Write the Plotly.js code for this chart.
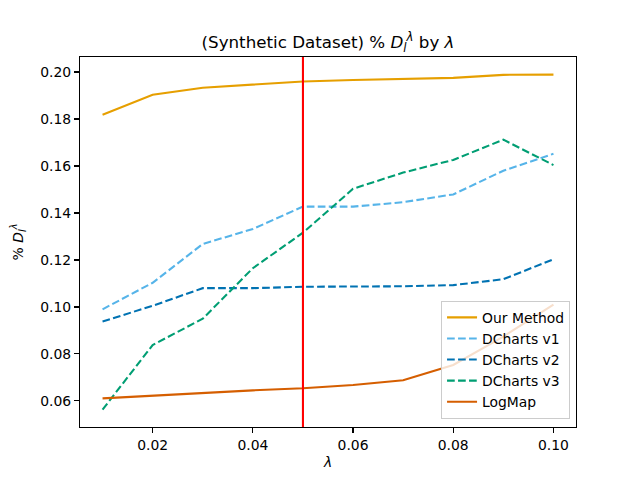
<!DOCTYPE html>
<html>
<head>
<meta charset="utf-8">
<script src="https://cdn.plot.ly/plotly-3.0.1.min.js"></script>
<style>html,body{margin:0;padding:0;background:#fff;}#chart{width:640px;height:480px;}</style>
</head>
<body>
<div id="chart"></div>
<script>
const lambdas = [0.01, 0.02, 0.03, 0.04, 0.05, 0.06, 0.07, 0.08, 0.09, 0.10];
const ourMethod = [0.1818, 0.1903, 0.1933, 0.1948, 0.1960, 0.1966, 0.1969, 0.1975, 0.1988, 0.1989];
const dchartsV1 = [0.0990, 0.1103, 0.1268, 0.1332, 0.1427, 0.1427, 0.1446, 0.1479, 0.1580, 0.1652];
const dchartsV2 = [0.0938, 0.1005, 0.1080, 0.1080, 0.1086, 0.1086, 0.1088, 0.1093, 0.1118, 0.1203];
const dchartsV3 = [0.0563, 0.0838, 0.0950, 0.1165, 0.1316, 0.1503, 0.1572, 0.1626, 0.1712, 0.1604];
const logMap = [0.0611, 0.0623, 0.0634, 0.0645, 0.0654, 0.0668, 0.0688, 0.0753, 0.0874, 0.1010];
const threshold = 0.05;
const seriesNames = ["Our Method", "DCharts v1", "DCharts v2", "DCharts v3", "LogMap"];
const xTicks = [0.02, 0.04, 0.06, 0.08, 0.10];
const yTicks = [0.06, 0.08, 0.10, 0.12, 0.14, 0.16, 0.18, 0.20];

const font = "DejaVu Sans, sans-serif";
const dash = "7.7px,3.3px";
const mk = (y, name, color, d) => ({
  x: lambdas, y: y, name: name, type: "scatter", mode: "lines",
  line: {color: color, width: 2.08, dash: d}
});
const traces = [
  mk(ourMethod, seriesNames[0], "#E69F00", "solid"),
  mk(dchartsV1, seriesNames[1], "#56B4E9", dash),
  mk(dchartsV2, seriesNames[2], "#0072B2", dash),
  mk(dchartsV3, seriesNames[3], "#009E73", dash),
  mk(logMap, seriesNames[4], "#D55E00", "solid")
];

const axisCommon = {
  showgrid: false, zeroline: false, showline: true, mirror: true,
  linecolor: "#000", linewidth: 1.1, ticks: "outside", ticklen: 4.9,
  tickwidth: 1.1, tickcolor: "#000", tickfont: {family: font, size: 13.9, color: "#000"}
};

const layout = {
  width: 640, height: 480,
  margin: {l: 80, r: 64, t: 57, b: 53},
  paper_bgcolor: "#fff", plot_bgcolor: "#fff",
  font: {family: font, color: "#000"},
  title: {text: "(Synthetic Dataset) % <i>D</i><sub><i>l</i></sub><sup><i>λ</i></sup> by <i>λ</i>",
          font: {family: font, size: 16.7, color: "#000"},
          x: 0.5125, xanchor: "center", y: 0.912, yanchor: "middle"},
  xaxis: Object.assign({}, axisCommon, {
    range: [0.0055, 0.1045], tickvals: xTicks,
    ticktext: xTicks.map(v => v.toFixed(2)),
    title: {text: "<i>λ</i>", font: {family: font, size: 13.9}, standoff: 5}
  }),
  yaxis: Object.assign({}, axisCommon, {
    range: [0.0489, 0.2064], tickvals: yTicks,
    ticktext: yTicks.map(v => v.toFixed(2)),
    title: {text: "% <i>D</i><sub><i>l</i></sub><sup><i>λ</i></sup>", font: {family: font, size: 13.9}, standoff: 13}
  }),
  shapes: [{
    type: "line", xref: "x", yref: "paper", x0: threshold, x1: threshold, y0: 0, y1: 1,
    line: {color: "#FF0000", width: 2.08}, layer: "above"
  }],
  legend: {
    x: 0.988, y: 0.022, xanchor: "right", yanchor: "bottom",
    bgcolor: "rgba(255,255,255,0.8)", bordercolor: "#cccccc", borderwidth: 1,
    font: {family: font, size: 13.9, color: "#000"}, tracegroupgap: 0,
    itemwidth: 30
  },
  showlegend: true
};

Plotly.newPlot("chart", traces, layout, {displayModeBar: false, staticPlot: true});
</script>
</body>
</html>
